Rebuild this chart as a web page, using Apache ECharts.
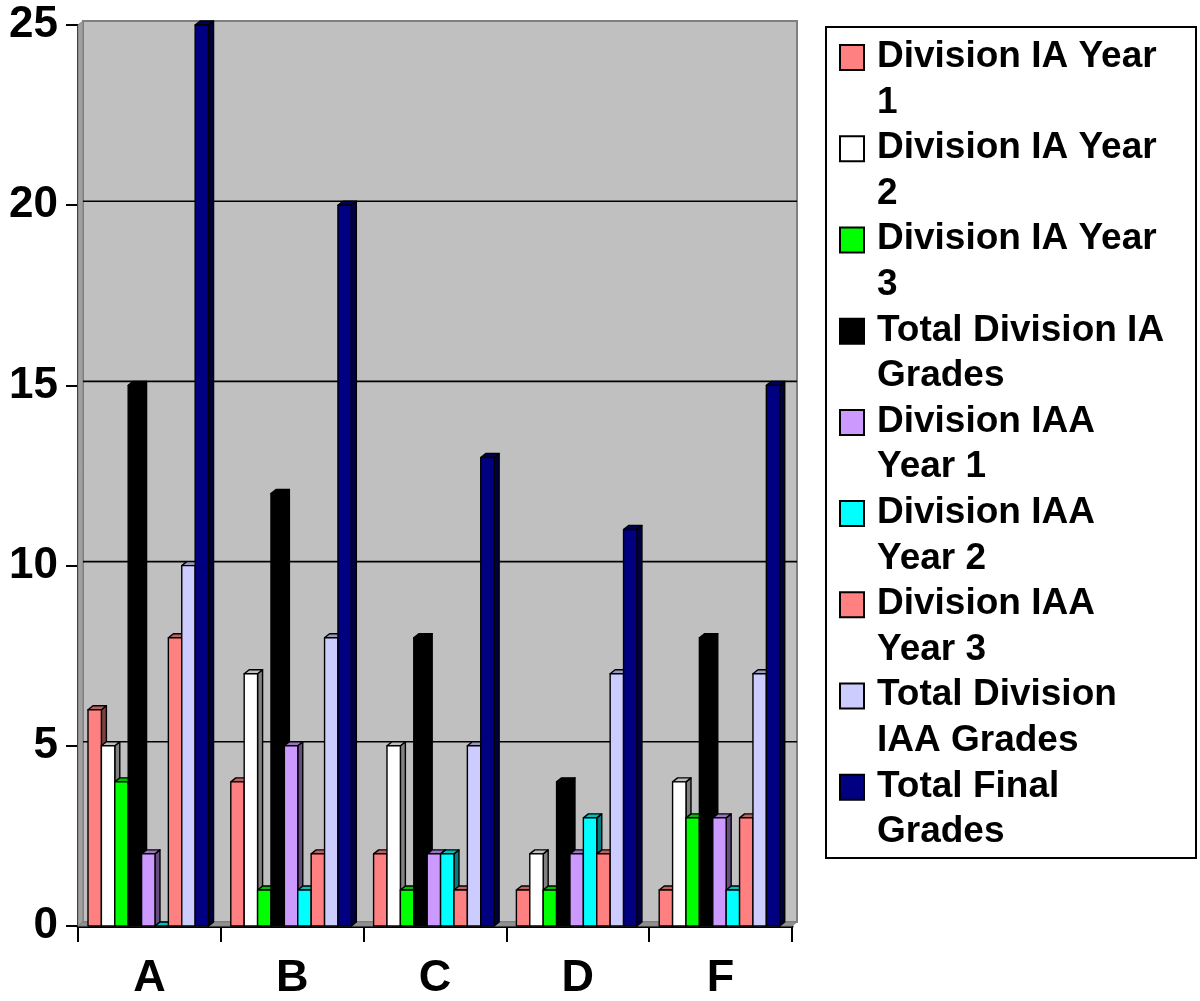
<!DOCTYPE html>
<html>
<head>
<meta charset="utf-8">
<script src="https://cdn.jsdelivr.net/npm/echarts@6/dist/echarts.min.js"></script>
<style>
  html, body { margin: 0; padding: 0; background: #fff; }
  #chart { width: 1200px; height: 1001px; }
</style>
</head>
<body>
<div id="chart"></div>
<script>
// Grade counts per letter grade, by division and year
const categories = ['A', 'B', 'C', 'D', 'F'];

const iaYear1    = [6, 4, 2, 1, 1];
const iaYear2    = [5, 7, 5, 2, 4];
const iaYear3    = [4, 1, 1, 1, 3];
const iaTotal    = [15, 12, 8, 4, 8];
const iaaYear1   = [2, 5, 2, 2, 3];
const iaaYear2   = [0, 1, 2, 3, 1];
const iaaYear3   = [8, 2, 1, 2, 3];
const iaaTotal   = [10, 8, 5, 7, 7];
const finalTotal = [25, 20, 13, 11, 15];

const seriesNames = [
  'Division IA Year 1', 'Division IA Year 2', 'Division IA Year 3',
  'Total Division IA Grades', 'Division IAA Year 1', 'Division IAA Year 2',
  'Division IAA Year 3', 'Total Division IAA Grades', 'Total Final Grades'
];
// legend text with its line breaks
const legendLabels = [
  'Division IA Year\n1', 'Division IA Year\n2', 'Division IA Year\n3',
  'Total Division IA\nGrades', 'Division IAA\nYear 1', 'Division IAA\nYear 2',
  'Division IAA\nYear 3', 'Total Division\nIAA Grades', 'Total Final\nGrades'
];
const seriesValues = [iaYear1, iaYear2, iaYear3, iaTotal, iaaYear1, iaaYear2, iaaYear3, iaaTotal, finalTotal];
const seriesColors = ['#FF8080', '#FFFFFF', '#00FF00', '#000000', '#CC99FF', '#00FFFF', '#FF8080', '#CCCCFF', '#000080'];
const gridValues = [5, 10, 15, 20];

// depth of the pseudo-3D extrusion (pixels)
const DX = 5, DY = 4;
// bar layout inside one category band (fractions of band width)
const START = 0.070, BAR_W = 0.0938;
const FONT = '"Liberation Sans", Arial, Helvetica, sans-serif';

function shade(hex, k) {
  const n = parseInt(hex.slice(1), 16);
  const r = Math.round(((n >> 16) & 255) * k);
  const g = Math.round(((n >> 8) & 255) * k);
  const b = Math.round((n & 255) * k);
  return 'rgb(' + r + ',' + g + ',' + b + ')';
}

function barRenderer(idx, color) {
  const topColor = shade(color, 0.75);
  const sideColor = shade(color, 0.5);
  const edge = { stroke: '#000', lineWidth: 1.4, lineJoin: 'round' };
  return function (params, api) {
    const cat = api.value(0);
    const v = api.value(1);
    const base = api.coord([cat, 0]);
    const top = api.coord([cat, v]);
    const band = api.size([1, 0])[0];
    const w = band * BAR_W;
    const x0 = base[0] - band / 2 + band * START + idx * w;
    const x1 = x0 + w;
    const yt = top[1], yb = base[1];
    const children = [];
    if (yb - yt > 0.5) {
      children.push({
        type: 'polygon',
        shape: { points: [[x1, yt], [x1 + DX, yt - DY], [x1 + DX, yb - DY], [x1, yb]] },
        style: Object.assign({ fill: sideColor }, edge)
      });
    }
    children.push({
      type: 'polygon',
      shape: { points: [[x0, yt], [x1, yt], [x1 + DX, yt - DY], [x0 + DX, yt - DY]] },
      style: Object.assign({ fill: topColor }, edge)
    });
    if (yb - yt > 0.5) {
      children.push({
        type: 'rect',
        shape: { x: x0, y: yt, width: w, height: yb - yt },
        style: Object.assign({ fill: color }, edge)
      });
    }
    return { type: 'group', children: children };
  };
}

// back wall, left wall and floor of the plot box
function renderWalls(params, api) {
  const cs = params.coordSys;
  const L = cs.x, R = cs.x + cs.width, T = cs.y, B = cs.y + cs.height;
  return {
    type: 'group',
    children: [
      { type: 'rect', shape: { x: L + DX, y: T - DY, width: cs.width, height: cs.height },
        style: { fill: '#C0C0C0', stroke: '#808080', lineWidth: 2 } },
      { type: 'polygon', shape: { points: [[L, B], [L + DX, B - DY], [L + DX, T - DY], [L, T]] },
        style: { fill: '#A0A0A0', stroke: '#808080', lineWidth: 1 } },
      { type: 'polygon', shape: { points: [[L, B], [R, B], [R + DX, B - DY], [L + DX, B - DY]] },
        style: { fill: '#909090', stroke: '#808080', lineWidth: 1 } }
    ]
  };
}

// gridlines drawn on the back wall
function renderGrid(params, api) {
  const cs = params.coordSys;
  const y = api.coord([0, api.value(0)])[1] - DY;
  return {
    type: 'line',
    shape: { x1: cs.x + DX, y1: y, x2: cs.x + cs.width + DX, y2: y },
    style: { stroke: '#000', lineWidth: 1.6 }
  };
}

const series = [
  { type: 'custom', name: '__walls', silent: true, renderItem: renderWalls, data: [[0, 0]], z: 1 },
  { type: 'custom', name: '__grid', silent: true, renderItem: renderGrid, encode: { y: 0 },
    data: gridValues.map(v => [v]), z: 1 }
];
seriesNames.forEach((name, i) => {
  series.push({
    type: 'custom',
    name: name,
    renderItem: barRenderer(i, seriesColors[i]),
    encode: { x: 0, y: 1 },
    itemStyle: { color: seriesColors[i], borderColor: '#000', borderWidth: 2 },
    data: seriesValues[i].map((v, c) => [c, v]),
    z: 2
  });
});

const chart = echarts.init(document.getElementById('chart'), null, { renderer: 'canvas' });
chart.setOption({
  animation: false,
  backgroundColor: '#FFFFFF',
  grid: { left: 78, right: 408, top: 25, bottom: 72, containLabel: false },
  xAxis: {
    type: 'category',
    data: categories,
    axisLine: { show: true, lineStyle: { color: '#000', width: 3 } },
    axisTick: { show: true, length: 16, interval: 0, lineStyle: { color: '#000', width: 2 } },
    axisLabel: { margin: 30, color: '#000', fontFamily: FONT, fontWeight: 'bold', fontSize: 45 },
    splitLine: { show: false }
  },
  yAxis: {
    type: 'value',
    min: 0, max: 25, interval: 5,
    axisLine: { show: true, lineStyle: { color: '#000', width: 2 } },
    axisTick: { show: true, length: 12, lineStyle: { color: '#000', width: 2 } },
    axisLabel: { margin: 20, color: '#000', fontFamily: FONT, fontWeight: 'bold', fontSize: 44 },
    splitLine: { show: false }
  },
  graphic: [{
    type: 'rect', z: 0,
    shape: { x: 826, y: 27, width: 370, height: 831 },
    style: { fill: '#FFFFFF', stroke: '#000', lineWidth: 2 }
  }],
  legend: {
    orient: 'vertical',
    left: 839, top: 34,
    padding: 0,
    itemGap: 0,
    itemWidth: 32, itemHeight: 89,
    icon: 'path://M0,10h24v25h-24z M32,0h0 M32,89h0',
    itemStyle: { borderColor: '#000', borderWidth: 2 },
    data: seriesNames,
    selectedMode: false,
    formatter: function (name) { return legendLabels[seriesNames.indexOf(name)]; },
    textStyle: { color: '#000', fontFamily: FONT, fontWeight: 'bold', fontSize: 37, lineHeight: 45.6 }
  },
  series: series
});
</script>
</body>
</html>
